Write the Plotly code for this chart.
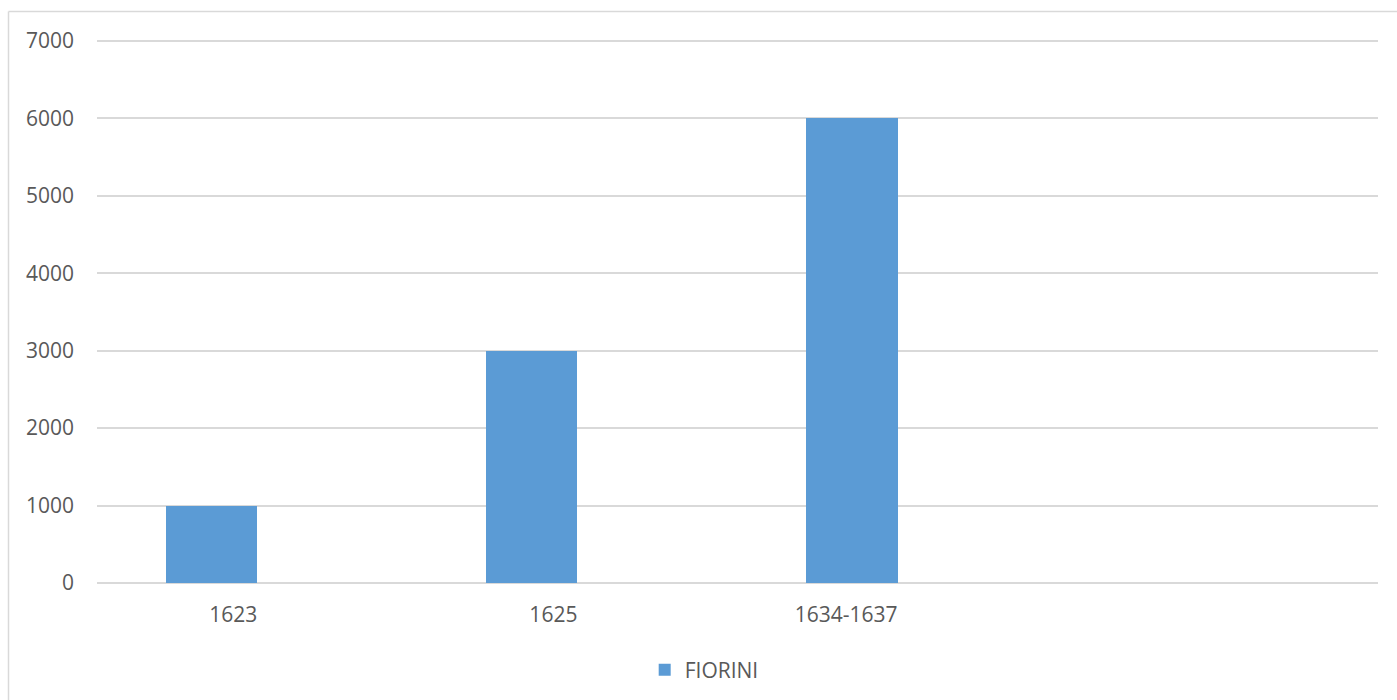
import plotly.graph_objects as go

categories = ["1623", "1625", "1634-1637"]
fiorini = [1000, 3000, 6000]
series_name = "FIORINI"
y_ticks = [0, 1000, 2000, 3000, 4000, 5000, 6000, 7000]

W, H = 1397, 700
ML, MR, MT, MB = 97, 19, 39, 117
PW, PH = W - ML - MR, H - MT - MB
y_top = 7000 * PH / (583 - 41)

bar_w = 0.286
xpos = list(range(len(categories)))

fig = go.Figure()
fig.add_trace(go.Bar(
    x=xpos, y=fiorini, name=series_name, width=bar_w,
    marker=dict(color="#5b9bd5", line=dict(width=0)),
    showlegend=True,
))

font_family = "Open Sans"
gray = "#595959"
fs = 21

fig.update_layout(
    width=W, height=H,
    margin=dict(l=ML, r=MR, t=MT, b=MB, autoexpand=False),
    paper_bgcolor="white", plot_bgcolor="white",
    font=dict(family=font_family, size=fs, color=gray),
    xaxis=dict(
        range=[-0.3577, 3.644],
        tickvals=[p + bar_w / 2 for p in xpos],
        ticktext=categories,
        ticklabelposition="outside left",
        showgrid=False, zeroline=False, showline=False,
        ticks="", ticklabelstandoff=17,
        tickfont=dict(size=fs, color=gray, family=font_family),
    ),
    yaxis=dict(
        range=[0, y_top], tickvals=y_ticks,
        showgrid=True, gridcolor="#d9d9d9", gridwidth=1.5,
        zeroline=True, zerolinecolor="#d9d9d9", zerolinewidth=1.5,
        showline=False, ticks="", ticklabelstandoff=22,
        tickfont=dict(size=fs, color=gray, family=font_family),
    ),
    legend=dict(
        orientation="h", x=0.474, xanchor="center", y=(H - MB - 670) / PH, yanchor="middle",
        font=dict(size=fs, color=gray, family=font_family),
        bgcolor="rgba(0,0,0,0)",
    ),
    bargap=0,
)

def px_x(px):
    return (px - ML) / PW

def px_y(py):
    return (H - MB - py) / PH

fig.add_shape(type="line", xref="paper", yref="paper",
              x0=px_x(8.5), x1=px_x(1400), y0=px_y(11.5), y1=px_y(11.5),
              line=dict(color="#d9d9d9", width=1.5), layer="above")
fig.add_shape(type="line", xref="paper", yref="paper",
              x0=px_x(8.5), x1=px_x(8.5), y0=px_y(11.5), y1=px_y(705),
              line=dict(color="#d9d9d9", width=1.5), layer="above")

fig.write_html("out.html")
